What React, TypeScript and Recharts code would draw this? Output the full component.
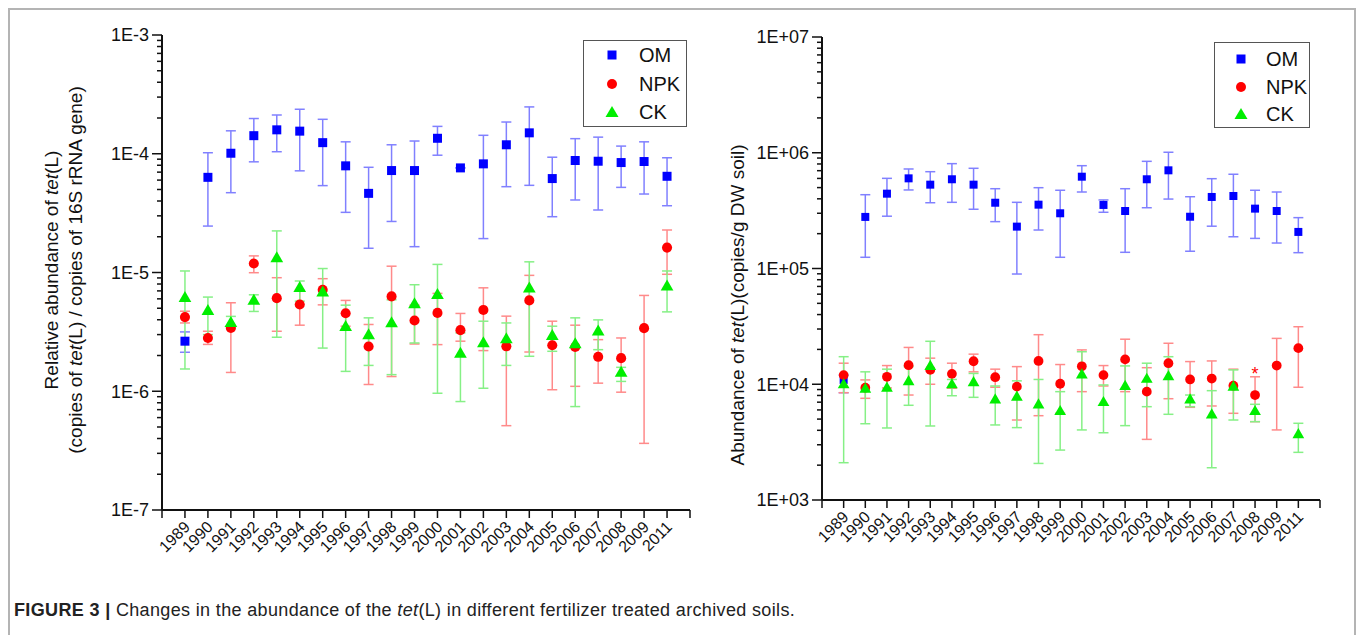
// tet(L) abundance in archived soils, 1989-2011, under three fertilizer regimes.

import { ScatterChart, Scatter, XAxis, YAxis, ErrorBar, Symbols } from "recharts";

const FONT = "'Liberation Sans', Arial, sans-serif";

// 2010 was not sampled
const YEARS = [
  "1989", "1990", "1991", "1992", "1993", "1994", "1995", "1996", "1997", "1998", "1999",
  "2000", "2001", "2002", "2003", "2004", "2005", "2006", "2007", "2008", "2009", "2011",
];

// left panel: copies of tet(L) / copies of 16S rRNA gene
const REL_DECADES = [-7, -6, -5, -4, -3];
const REL_OM = [2.64e-6, 6.33e-5, 1.01e-4, 1.42e-4, 1.59e-4, 1.55e-4, 1.24e-4, 7.91e-5, 4.64e-5, 7.22e-5, 7.22e-5, 1.35e-4, 7.6e-5, 8.22e-5, 1.19e-4, 1.5e-4, 6.18e-5, 8.77e-5, 8.65e-5, 8.43e-5, 8.6e-5, 6.46e-5];
const REL_OM_LO = [2.13e-6, 2.46e-5, 4.7e-5, 8.55e-5, 1.04e-4, 7.18e-5, 5.39e-5, 3.21e-5, 1.6e-5, 2.69e-5, 1.65e-5, 9.72e-5, 7.6e-5, 1.93e-5, 5.28e-5, 5.42e-5, 2.95e-5, 4.08e-5, 3.36e-5, 5.21e-5, 4.58e-5, 3.65e-5];
const REL_OM_HI = [3.16e-6, 1.02e-4, 1.56e-4, 1.98e-4, 2.12e-4, 2.37e-4, 1.95e-4, 1.26e-4, 7.69e-5, 1.19e-4, 1.28e-4, 1.7e-4, 7.6e-5, 1.43e-4, 1.85e-4, 2.48e-4, 9.35e-5, 1.34e-4, 1.38e-4, 1.16e-4, 1.26e-4, 9.25e-5];
const REL_NPK = [4.21e-6, 2.81e-6, 3.41e-6, 1.19e-5, 6.08e-6, 5.38e-6, 7.16e-6, 4.54e-6, 2.38e-6, 6.29e-6, 3.94e-6, 4.57e-6, 3.27e-6, 4.84e-6, 2.39e-6, 5.82e-6, 2.44e-6, 2.36e-6, 1.95e-6, 1.9e-6, 3.4e-6, 1.62e-5];
const REL_NPK_LO = [3.76e-6, 2.48e-6, 1.44e-6, 9.96e-6, 3.2e-6, 3.6e-6, 5.34e-6, 3.53e-6, 1.14e-6, 1.33e-6, 2.5e-6, 2.47e-6, 2.64e-6, 2.2e-6, 5.13e-7, 2.14e-6, 1.03e-6, 1.1e-6, 1.17e-6, 9.82e-7, 3.64e-7, 9.66e-6];
const REL_NPK_HI = [4.72e-6, 3.2e-6, 5.56e-6, 1.38e-5, 9.04e-6, 7.07e-6, 8.87e-6, 5.82e-6, 3.65e-6, 1.13e-5, 5.31e-6, 6.67e-6, 4.52e-6, 7.43e-6, 4.29e-6, 9.46e-6, 3.89e-6, 3.6e-6, 2.72e-6, 2.81e-6, 6.41e-6, 2.28e-5];
const REL_CK = [6.05e-6, 4.72e-6, 3.74e-6, 5.74e-6, 1.31e-5, 7.35e-6, 6.75e-6, 3.46e-6, 2.94e-6, 3.72e-6, 5.38e-6, 6.41e-6, 2.06e-6, 2.52e-6, 2.72e-6, 7.3e-6, 2.9e-6, 2.47e-6, 3.16e-6, 1.42e-6, null, 7.59e-6];
const REL_CK_LO = [1.54e-6, 3.0e-6, 3.41e-6, 4.7e-6, 2.85e-6, 5.74e-6, 2.31e-6, 1.47e-6, 1.65e-6, 1.38e-6, 2.55e-6, 9.62e-7, 8.19e-7, 1.06e-6, 1.65e-6, 1.97e-6, 2.17e-6, 7.43e-7, 2.24e-6, 1.21e-6, null, 4.66e-6];
const REL_CK_HI = [1.03e-5, 6.21e-6, 4.27e-6, 6.49e-6, 2.24e-5, 8.48e-6, 1.08e-5, 5.31e-6, 4.15e-6, 5.89e-6, 7.89e-6, 1.17e-5, 3.1e-6, 3.89e-6, 3.76e-6, 1.23e-5, 3.53e-6, 4.15e-6, 3.99e-6, 1.59e-6, null, 1.03e-5];

// right panel: copies / g DW soil
const ABS_DECADES = [3, 4, 5, 6, 7];
const ABS_OM = [1.09e4, 2.79e5, 4.43e5, 6.01e5, 5.3e5, 5.9e5, 5.3e5, 3.7e5, 2.3e5, 3.56e5, 3.0e5, 6.21e5, 3.54e5, 3.14e5, 5.9e5, 7.05e5, 2.8e5, 4.15e5, 4.23e5, 3.29e5, 3.14e5, 2.07e5];
const ABS_OM_LO = [8.45e3, 1.25e5, 2.83e5, 4.77e5, 3.7e5, 3.73e5, 3.25e5, 2.54e5, 8.96e4, 2.15e5, 1.25e5, 4.58e5, 3.06e5, 1.38e5, 3.35e5, 3.98e5, 1.41e5, 2.32e5, 1.88e5, 1.82e5, 1.66e5, 1.37e5];
const ABS_OM_HI = [1.2e4, 4.34e5, 6.01e5, 7.24e5, 6.86e5, 8.05e5, 7.34e5, 4.89e5, 3.73e5, 4.99e5, 4.74e5, 7.73e5, 3.91e5, 4.89e5, 8.43e5, 1.01e6, 4.17e5, 5.97e5, 6.52e5, 4.74e5, 4.58e5, 2.75e5];
const ABS_NPK = [1.2e4, 9.33e3, 1.16e4, 1.46e4, 1.33e4, 1.23e4, 1.58e4, 1.15e4, 9.53e3, 1.59e4, 1.01e4, 1.43e4, 1.2e4, 1.64e4, 8.63e3, 1.52e4, 1.1e4, 1.12e4, 9.72e3, 8.07e3, 1.45e4, 2.05e4];
const ABS_NPK_LO = [8.45e3, 7.56e3, 9.29e3, 8.07e3, 1.0e4, 9.23e3, 1.28e4, 9.42e3, 4.91e3, 5.35e3, 5.61e3, 8.63e3, 9.66e3, 8.63e3, 3.34e3, 7.5e3, 6.32e3, 6.49e3, 5.61e3, 4.75e3, 4.03e3, 9.42e3];
const ABS_NPK_HI = [1.52e4, 1.09e4, 1.45e4, 2.08e4, 1.68e4, 1.52e4, 1.82e4, 1.35e4, 1.42e4, 2.68e4, 1.48e4, 1.98e4, 1.45e4, 2.45e4, 1.39e4, 2.26e4, 1.57e4, 1.59e4, 1.35e4, 1.16e4, 2.49e4, 3.14e4];
const ABS_CK = [9.86e3, 9.04e3, 9.23e3, 1.05e4, 1.42e4, 9.86e3, 1.03e4, 7.31e3, 7.71e3, 6.62e3, 5.79e3, 1.2e4, 6.93e3, 9.53e3, 1.1e4, 1.16e4, 7.31e3, 5.42e3, 9.42e3, 5.79e3, null, 3.65e3];
const ABS_CK_LO = [2.1e3, 4.56e3, 4.19e3, 6.58e3, 4.36e3, 7.96e3, 7.71e3, 4.45e3, 4.22e3, 2.07e3, 2.7e3, 4.03e3, 3.81e3, 4.39e3, 6.4e3, 5.5e3, 6.4e3, 1.9e3, 4.91e3, 4.75e3, null, 2.58e3];
const ABS_CK_HI = [1.73e4, 1.28e4, 1.35e4, 1.42e4, 2.35e4, 1.1e4, 1.24e4, 9.66e3, 1.07e4, 1.1e4, 8.63e3, 1.91e4, 9.86e3, 1.44e4, 1.52e4, 1.73e4, 8.07e3, 8.8e3, 1.33e4, 6.71e3, null, 4.6e3];
// significance mark above NPK in 2008
const ABS_STAR = [{ year: "2008", v: 1.39e4 }];

const BLUE = "#0000ff";
const RED = "#ff0000";
const GREEN = "#00ee00";
const BLUE_BAR = "#8080ff";
const RED_BAR = "#ff8a8a";
const GREEN_BAR = "#86f086";
const INK = "#111";

function points(mean: (number | null)[], lo: (number | null)[], hi: (number | null)[]) {
  const out: { i: number; v: number; err: [number, number] }[] = [];
  mean.forEach((v, k) => {
    if (v == null) return;
    out.push({ i: k + 1, v, err: [v - (lo[k] as number), (hi[k] as number) - v] });
  });
  return out;
}

// 1..9 x 10^e for every decade, so minor ticks sit on the log scale
function logTicks(decades: number[]) {
  const t: number[] = [];
  for (let d = 0; d < decades.length - 1; d++)
    for (let m = 1; m < 10; m++) t.push(m * Math.pow(10, decades[d]));
  t.push(Math.pow(10, decades[decades.length - 1]));
  return t;
}

const X_TICKS = Array.from({ length: YEARS.length + 2 }, (_, k) => k);

function YTick(props: any) {
  const { x, y, payload, fmt } = props;
  const lg = Math.log10(payload.value);
  const major = Math.abs(lg - Math.round(lg)) < 1e-6;
  const len = major ? 10 : 5;
  return (
    <g>
      <line x1={x} x2={x - len} y1={y} y2={y} stroke={INK} strokeWidth={1.5} />
      {major && (
        <text x={x - len - 3} y={y} dy="0.36em" textAnchor="end" fontSize={18} fill={INK} fontFamily={FONT}>
          {fmt(Math.round(lg))}
        </text>
      )}
    </g>
  );
}

function XTick(props: any) {
  const { x, y, payload } = props;
  const label = YEARS[payload.value - 1];
  return (
    <g>
      <line x1={x} x2={x} y1={y} y2={y + 8} stroke={INK} strokeWidth={1.5} />
      {label && (
        <text
          transform={`translate(${x + 6},${y + 18}) rotate(-45)`}
          textAnchor="end"
          fontSize={16}
          fill={INK}
          fontFamily={FONT}
        >
          {label}
        </text>
      )}
    </g>
  );
}

const mark = (type: "square" | "circle" | "triangle", size: number, fill: string) => (p: any) =>
  <Symbols cx={p.cx} cy={p.cy} type={type} size={size} fill={fill} />;

function Panel(props: {
  width: number;
  height: number;
  margin: { top: number; right: number; bottom: number; left: number };
  decades: number[];
  fmt: (e: number) => string;
  om: any[];
  npk: any[];
  ck: any[];
  sizes: [number, number, number];
  star?: { i: number; v: number }[];
}) {
  const { decades } = props;
  const domain = [Math.pow(10, decades[0]), Math.pow(10, decades[decades.length - 1])];
  const frame = { stroke: INK, strokeWidth: 2 };
  return (
    <ScatterChart width={props.width} height={props.height} margin={props.margin}>
      <XAxis
        type="number"
        dataKey="i"
        domain={[0, YEARS.length + 1]}
        ticks={X_TICKS}
        interval={0}
        tickSize={0}
        tickMargin={0}
        tick={(p: any) => <XTick {...p} />}
        axisLine={frame}
        height={60}
        allowDataOverflow
      />
      <XAxis xAxisId="top" orientation="top" type="number" domain={[0, 1]} tick={false} tickLine={false} axisLine={frame} height={0} />
      <YAxis
        type="number"
        dataKey="v"
        scale="log"
        domain={domain}
        ticks={logTicks(decades)}
        interval={0}
        tickSize={0}
        tickMargin={0}
        tick={(p: any) => <YTick {...p} fmt={props.fmt} />}
        axisLine={frame}
        width={70}
        allowDataOverflow
      />
      <YAxis yAxisId="right" orientation="right" type="number" domain={[0, 1]} tick={false} tickLine={false} axisLine={frame} width={0} />
      <Scatter data={props.om} shape={mark("square", props.sizes[0], BLUE)} isAnimationActive={false}>
        <ErrorBar dataKey="err" direction="y" width={5} stroke={BLUE_BAR} strokeWidth={1.5} />
      </Scatter>
      <Scatter data={props.npk} shape={mark("circle", props.sizes[1], RED)} isAnimationActive={false}>
        <ErrorBar dataKey="err" direction="y" width={5} stroke={RED_BAR} strokeWidth={1.5} />
      </Scatter>
      <Scatter data={props.ck} shape={mark("triangle", props.sizes[2], GREEN)} isAnimationActive={false}>
        <ErrorBar dataKey="err" direction="y" width={5} stroke={GREEN_BAR} strokeWidth={1.5} />
      </Scatter>
      {props.star && (
        <Scatter
          data={props.star}
          isAnimationActive={false}
          shape={(p: any) => (
            <text x={p.cx} y={p.cy} dy="0.7em" textAnchor="middle" fontSize={18} fill={RED} fontFamily={FONT}>
              *
            </text>
          )}
        />
      )}
    </ScatterChart>
  );
}

function LegendBox({ left, top, width, height, iconX, textX, rows }: any) {
  const items = [
    { name: "OM", icon: <rect x={-4.5} y={-4.5} width={9} height={9} fill={BLUE} /> },
    { name: "NPK", icon: <circle r={5} fill={RED} /> },
    { name: "CK", icon: <path d="M0,-6 L6.5,5 L-6.5,5 Z" fill={GREEN} /> },
  ];
  return (
    <div
      style={{
        position: "absolute",
        left,
        top,
        width,
        height,
        boxSizing: "border-box",
        border: "1.5px solid #555",
        background: "#fff",
        fontFamily: FONT,
      }}
    >
      {items.map((it, k) => (
        <div key={it.name}>
          <svg width={16} height={16} style={{ position: "absolute", left: iconX - 8, top: rows[k] - 8 }}>
            <g transform="translate(8,8)">{it.icon}</g>
          </svg>
          <div style={{ position: "absolute", left: textX, top: rows[k] - 12, fontSize: 20, lineHeight: "24px", color: INK }}>
            {it.name}
          </div>
        </div>
      ))}
    </div>
  );
}

function VTitle({ cx, cy, children }: any) {
  return (
    <div
      style={{
        position: "absolute",
        left: cx,
        top: cy,
        transform: "translate(-50%, -50%) rotate(-90deg)",
        whiteSpace: "nowrap",
        textAlign: "center",
        fontFamily: FONT,
        fontSize: 19,
        lineHeight: "24px",
        color: INK,
      }}
    >
      {children}
    </div>
  );
}

export default function App() {
  const star = ABS_STAR.map((s) => ({ i: YEARS.indexOf(s.year) + 1, v: s.v }));
  return (
    <div style={{ position: "absolute", left: 0, top: 0, width: 1358, height: 635, background: "#fff", overflow: "hidden" }}>
      <div
        style={{
          position: "absolute",
          left: 8,
          top: 8,
          width: 1348,
          height: 700,
          boxSizing: "border-box",
          border: "2px solid #b4b4b4",
        }}
      />
      <div style={{ position: "absolute", left: 0, top: 0 }}>
        <Panel
          width={720}
          height={580}
          margin={{ top: 35, right: 30, bottom: 10, left: 92 }}
          decades={REL_DECADES}
          fmt={(e) => `1E${e}`}
          om={points(REL_OM, REL_OM_LO, REL_OM_HI)}
          npk={points(REL_NPK, REL_NPK_LO, REL_NPK_HI)}
          ck={points(REL_CK, REL_CK_LO, REL_CK_HI)}
          sizes={[81, 80, 70]}
        />
      </div>
      <div style={{ position: "absolute", left: 700, top: 0 }}>
        <Panel
          width={658}
          height={580}
          margin={{ top: 37, right: 38, bottom: 20, left: 52 }}
          decades={ABS_DECADES}
          fmt={(e) => `1E+0${e}`}
          om={points(ABS_OM, ABS_OM_LO, ABS_OM_HI)}
          npk={points(ABS_NPK, ABS_NPK_LO, ABS_NPK_HI)}
          ck={points(ABS_CK, ABS_CK_LO, ABS_CK_HI)}
          sizes={[64, 75, 60]}
          star={star}
        />
      </div>
      <LegendBox left={583} top={40} width={104} height={87} iconX={28} textX={55} rows={[14, 43, 71]} />
      <LegendBox left={1214} top={42} width={96} height={86} iconX={26} textX={51} rows={[16, 44, 71]} />
      <VTitle cx={64} cy={270}>
        Relative abundance of <i>tet</i>(L)
        <br />
        (copies of <i>tet</i>(L) / copies of 16S rRNA gene)
      </VTitle>
      <VTitle cx={738} cy={305}>
        Abundance of <i>tet</i>(L)(copies/g DW soil)
      </VTitle>
      <div
        style={{
          position: "absolute",
          left: 14,
          top: 599,
          fontFamily: FONT,
          fontSize: 18,
          letterSpacing: 0.35,
          lineHeight: "22px",
          color: "#222",
          whiteSpace: "nowrap",
        }}
      >
        <b>FIGURE 3 |</b> Changes in the abundance of the <i>tet</i>(L) in different fertilizer treated archived soils.
      </div>
    </div>
  );
}
